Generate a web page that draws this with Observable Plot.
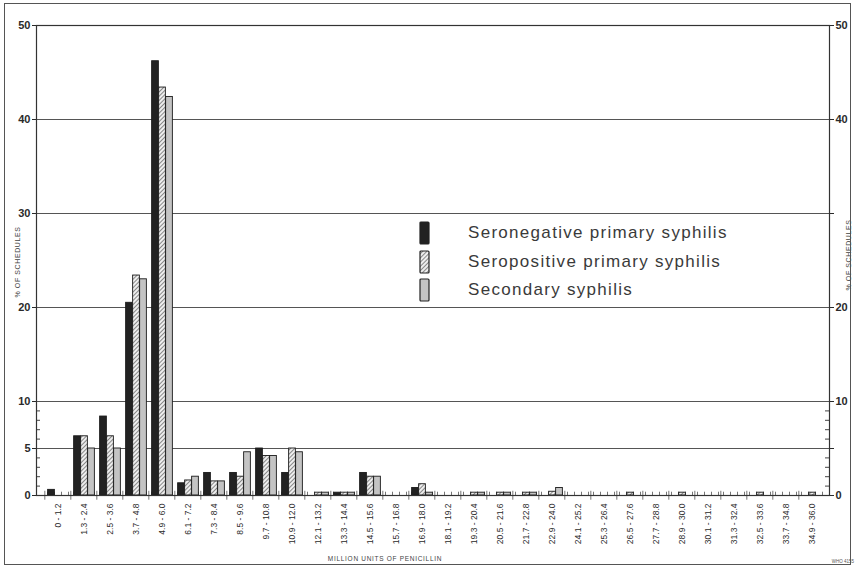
<!DOCTYPE html>
<html><head><meta charset="utf-8">
<script src="https://cdn.jsdelivr.net/npm/d3@7"></script>
<script src="https://cdn.jsdelivr.net/npm/@observablehq/plot@0.6"></script>
<style>
body{margin:0;background:#fff;}
#wrap{position:relative;width:855px;height:569px;overflow:hidden;font-family:"Liberation Sans",Arial,sans-serif;color:#333;}
#border{position:absolute;left:4px;top:3px;width:845px;height:560px;border:1.5px solid #555;pointer-events:none;}
.vt{position:absolute;transform:translate(-50%,-50%) rotate(-90deg);white-space:nowrap;font-size:7px;letter-spacing:0.6px;color:#444;}
#xtitle{position:absolute;left:385px;top:558px;transform:translate(-50%,-50%);font-size:6.5px;letter-spacing:0.7px;color:#444;white-space:nowrap;}
#code{position:absolute;left:843px;top:561px;transform:translate(-50%,-50%);font-size:4.5px;color:#555;white-space:nowrap;}
#legend{position:absolute;left:419px;top:219px;}
.lrow{display:flex;align-items:center;height:28.5px;}
.lrow span{margin-left:37px;font-size:17px;letter-spacing:1.3px;color:#3a3a3a;}
</style></head><body>
<div id="wrap"></div>
<script>
const categories = ["0 - 1.2","1.3 - 2.4","2.5 - 3.6","3.7 - 4.8","4.9 - 6.0","6.1 - 7.2","7.3 - 8.4","8.5 - 9.6","9.7 - 10.8","10.9 - 12.0","12.1 - 13.2","13.3 - 14.4","14.5 - 15.6","15.7 - 16.8","16.9 - 18.0","18.1 - 19.2","19.3 - 20.4","20.5 - 21.6","21.7 - 22.8","22.9 - 24.0","24.1 - 25.2","25.3 - 26.4","26.5 - 27.6","27.7 - 28.8","28.9 - 30.0","30.1 - 31.2","31.3 - 32.4","32.5 - 33.6","33.7 - 34.8","34.9 - 36.0"];
const seriesNames = ["Seronegative primary syphilis","Seropositive primary syphilis","Secondary syphilis"];
const seronegative = [0.6,6.3,8.4,20.5,46.2,1.3,2.4,2.4,5.0,2.4,0,0.3,2.4,0,0.8,0,0,0,0,0,0,0,0,0,0,0,0,0,0,0];
const seropositive = [0,6.3,6.3,23.4,43.4,1.6,1.5,2.0,4.2,5.0,0.3,0.3,2.0,0,1.2,0,0.3,0.3,0.3,0.4,0,0,0.3,0,0.3,0,0,0.3,0,0.3];
const secondary    = [0,5.0,5.0,23.0,42.4,2.0,1.5,4.6,4.2,4.6,0.3,0.3,2.0,0,0.3,0,0.3,0.3,0.3,0.8,0,0,0,0,0,0,0,0,0,0];
const yTicks = [0,5,10,20,30,40,50];
const yTicksRight = [0,10,20,40,50];
const yMinorTicks = [1,2,3,4,6,7,8,9];
const yTitle = "% OF SCHEDULES";
const xTitle = "MILLION UNITS OF PENICILLIN";
const codeText = "WHO 4155";

const W = 855, H = 569, mL = 36, mR = 26, mT = 25, mB = 74, xInset = 5;
const plotW = W - mL - mR;
const bw = (plotW - xInset) / categories.length;
const barW = 7;
const pad = (bw - 3 * barW) / 2;

const seriesValues = [seronegative, seropositive, secondary];
const rows = seriesValues.map(vals => categories.map((c, i) => ({cat: c, value: vals[i]})));
const fills = ["#222", "url(#hatch)", "#c4c4c4"];

const barMarks = rows.map((r, k) => Plot.barY(r, {
  x: "cat", y: "value", fill: fills[k], stroke: "#1a1a1a", strokeWidth: 0.9,
  insetLeft: pad + k * barW, insetRight: bw - pad - (k + 1) * barW
}));

// small edge ticks along the baseline (band boundaries and bar slots)
const tickRows = categories.map(c => ({cat: c}));
const edgeTicks = [0, 1, 2, 3].map(k => Plot.barY(tickRows, {
  x: "cat", y1: 0, y2: 0.35, fill: "#444",
  insetLeft: pad + k * barW - 0.5, insetRight: bw - pad - k * barW - 0.5
}));
const boundaryTicks = Plot.barY(tickRows, {
  x: "cat", y1: -0.5, y2: 0.45, fill: "#444", insetLeft: -0.5, insetRight: bw - 0.5
});

const chart = Plot.plot({
  width: W, height: H,
  marginLeft: mL, marginRight: mR, marginTop: mT, marginBottom: mB,
  style: {background: "transparent", color: "#2a2a2a", fontFamily: "'Liberation Sans', Arial, sans-serif"},
  x: {type: "band", domain: categories, padding: 0, insetLeft: xInset},
  y: {domain: [0, 50]},
  marks: [
    Plot.ruleY(yTicks.filter(d => d > 0 && d < 50), {stroke: "#555", strokeWidth: 1}),
    Plot.ruleY(yMinorTicks, {insetRight: plotW - 4, stroke: "#444"}),
    Plot.ruleY(yMinorTicks, {insetLeft: plotW - 4, stroke: "#444"}),
    boundaryTicks,
    ...edgeTicks,
    ...barMarks,
    Plot.frame({stroke: "#333", strokeWidth: 1.2}),
    Plot.axisY({anchor: "left", ticks: yTicks, tickSize: 4, tickPadding: 2, label: null, fontSize: 11, fontWeight: "bold"}),
    Plot.axisY({anchor: "right", ticks: yTicks, tickSize: 4, tickFormat: d => yTicksRight.includes(d) ? String(d) : "", tickPadding: 2, label: null, fontSize: 11, fontWeight: "bold"}),
    Plot.axisX({ticks: categories, tickRotate: -90, tickSize: 0, tickPadding: 8, label: null, fontSize: 8.5})
  ]
});

// hatch pattern definition
const ns = "http://www.w3.org/2000/svg";
const defs = document.createElementNS(ns, "defs");
defs.innerHTML = `<pattern id="hatch" patternUnits="userSpaceOnUse" width="3" height="3" patternTransform="rotate(45)">
  <rect width="3" height="3" fill="#eee"/>
  <line x1="0" y1="0" x2="0" y2="3" stroke="#333" stroke-width="1.1"/>
</pattern>`;
chart.insertBefore(defs, chart.firstChild);

const wrap = document.getElementById("wrap");
wrap.appendChild(chart);

function addDiv(cls, id, text, left, top) {
  const d = document.createElement("div");
  if (cls) d.className = cls;
  if (id) d.id = id;
  d.textContent = text;
  if (left != null) { d.style.left = left + "px"; d.style.top = top + "px"; }
  wrap.appendChild(d);
}
addDiv("vt", null, yTitle, 17, 262);
addDiv("vt", null, yTitle, 848, 255);
addDiv(null, "xtitle", xTitle);
addDiv(null, "code", codeText);

const b = document.createElement("div"); b.id = "border"; wrap.appendChild(b);

// legend
const legend = document.createElement("div"); legend.id = "legend";
seriesNames.forEach((name, k) => {
  const row = document.createElement("div"); row.className = "lrow";
  row.innerHTML = `<svg width="12" height="24"><defs><pattern id="lh${k}" patternUnits="userSpaceOnUse" width="3" height="3" patternTransform="rotate(45)"><rect width="3" height="3" fill="#eee"/><line x1="0" y1="0" x2="0" y2="3" stroke="#333" stroke-width="1.1"/></pattern></defs><rect x="1" y="1" width="9" height="22" rx="1" fill="${k === 1 ? `url(#lh${k})` : fills[k]}" stroke="#222" stroke-width="1.2"/></svg><span>${name}</span>`;
  legend.appendChild(row);
});
wrap.appendChild(legend);
</script>
</body></html>
